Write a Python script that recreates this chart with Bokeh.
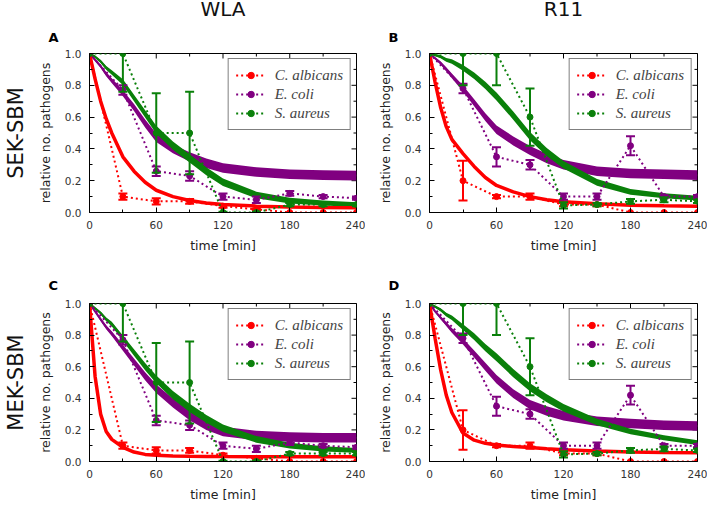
import math
from bokeh.plotting import figure
from bokeh.models import (Range1d, Legend, LegendItem, FixedTicker,
                          PrintfTickFormatter, Title)
from bokeh.layouts import column, row
from bokeh.embed import file_html
from bokeh.resources import INLINE

# ---------------- data ----------------
t_obs = [0, 30, 60, 90, 120, 150, 180, 210, 240]

wla_calb      = [1.00, 0.10, 0.07, 0.07, 0.04, 0.02, 0.00, 0.00, 0.00]
wla_calb_err  = [0.00, 0.02, 0.02, 0.015, 0.01, 0.005, 0.00, 0.00, 0.00]
wla_ecoli     = [1.00, 0.77, 0.26, 0.23, 0.10, 0.08, 0.12, 0.10, 0.09]
wla_ecoli_err = [0.00, 0.03, 0.03, 0.03, 0.02, 0.02, 0.015, 0.01, 0.01]
wla_saur      = [1.00, 1.00, 0.50, 0.50, 0.00, 0.00, 0.05, 0.05, 0.05]
wla_saur_err  = [0.00, 0.24, 0.25, 0.26, 0.005, 0.005, 0.01, 0.01, 0.01]

r11_calb      = [1.00, 0.20, 0.10, 0.10, 0.05, 0.05, 0.00, 0.00, 0.00]
r11_calb_err  = [0.00, 0.125, 0.01, 0.02, 0.01, 0.01, 0.00, 0.00, 0.00]
r11_ecoli     = [1.00, 0.78, 0.35, 0.30, 0.10, 0.10, 0.42, 0.10, 0.10]
r11_ecoli_err = [0.00, 0.03, 0.06, 0.03, 0.02, 0.02, 0.06, 0.01, 0.01]
r11_saur      = [1.00, 1.00, 1.00, 0.60, 0.045, 0.05, 0.07, 0.08, 0.07]
r11_saur_err  = [0.00, 0.20, 0.20, 0.18, 0.02, 0.01, 0.015, 0.015, 0.01]

t_fit = [0, 5, 10, 15, 20, 30, 40, 50, 60, 75, 90, 105, 120, 150, 180, 210, 240]

sek_wla_calb_fit  = [1.00, 0.84, 0.70, 0.59, 0.50, 0.35, 0.26, 0.19, 0.14, 0.10, 0.075, 0.06, 0.05, 0.04, 0.035, 0.032, 0.03]
sek_wla_ecoli_fit = [1.00, 0.96, 0.92, 0.87, 0.83, 0.75, 0.66, 0.56, 0.47, 0.40, 0.35, 0.31, 0.28, 0.255, 0.24, 0.235, 0.232]
sek_wla_saur_fit  = [1.00, 0.98, 0.95, 0.91, 0.88, 0.82, 0.72, 0.62, 0.52, 0.42, 0.34, 0.26, 0.19, 0.11, 0.075, 0.06, 0.05]

sek_r11_calb_fit  = [1.00, 0.82, 0.66, 0.54, 0.46, 0.37, 0.29, 0.22, 0.17, 0.13, 0.10, 0.08, 0.067, 0.055, 0.046, 0.042, 0.04]
sek_r11_ecoli_fit = [1.00, 0.97, 0.94, 0.90, 0.86, 0.78, 0.69, 0.60, 0.52, 0.45, 0.39, 0.34, 0.30, 0.26, 0.245, 0.24, 0.235]
sek_r11_saur_fit  = [1.00, 0.99, 0.98, 0.96, 0.95, 0.91, 0.86, 0.80, 0.73, 0.61, 0.48, 0.38, 0.30, 0.19, 0.13, 0.105, 0.09]

mek_wla_calb_fit  = [1.00, 0.54, 0.30, 0.19, 0.14, 0.09, 0.06, 0.045, 0.04, 0.035, 0.033, 0.032, 0.031, 0.03, 0.03, 0.03, 0.03]
mek_wla_ecoli_fit = [1.00, 0.95, 0.90, 0.85, 0.81, 0.72, 0.63, 0.54, 0.46, 0.37, 0.29, 0.23, 0.19, 0.165, 0.155, 0.15, 0.15]
mek_wla_saur_fit  = [1.00, 0.97, 0.94, 0.90, 0.87, 0.78, 0.69, 0.60, 0.52, 0.42, 0.34, 0.27, 0.21, 0.14, 0.10, 0.08, 0.07]

mek_r11_calb_fit  = [1.00, 0.78, 0.58, 0.42, 0.31, 0.18, 0.135, 0.115, 0.105, 0.095, 0.088, 0.08, 0.075, 0.067, 0.06, 0.057, 0.055]
mek_r11_ecoli_fit = [1.00, 0.95, 0.91, 0.87, 0.83, 0.76, 0.68, 0.60, 0.52, 0.43, 0.36, 0.32, 0.29, 0.255, 0.24, 0.23, 0.225]
mek_r11_saur_fit  = [1.00, 0.98, 0.96, 0.93, 0.91, 0.85, 0.79, 0.72, 0.66, 0.56, 0.47, 0.40, 0.34, 0.25, 0.19, 0.15, 0.12]

ecoli_band_hw = [0.004, 0.007, 0.01, 0.013, 0.015, 0.019, 0.022, 0.025, 0.027, 0.028, 0.029, 0.03, 0.03, 0.03, 0.03, 0.03, 0.03]
saur_band_hw  = [0.004, 0.007, 0.01, 0.012, 0.014, 0.018, 0.021, 0.023, 0.025, 0.026, 0.026, 0.025, 0.024, 0.021, 0.018, 0.016, 0.015]

species = ["C. albicans", "E. coli", "S. aureus"]
x_ticks = [0, 60, 120, 180, 240]
x_minor = [30, 90, 150, 210]
y_ticks = [0.0, 0.2, 0.4, 0.6, 0.8, 1.0]
y_minor = [0.1, 0.3, 0.5, 0.7, 0.9]

RED, PURPLE, GREEN = "#ff0000", "#800080", "#0a800a"
FONT = "DejaVu Sans"


def style_axis(ax, standoff, label_standoff):
    ax.major_tick_in = 5
    ax.major_tick_out = 0
    ax.minor_tick_in = 3
    ax.minor_tick_out = 0
    ax.axis_line_color = "black"
    ax.major_tick_line_color = "black"
    ax.minor_tick_line_color = "black"
    ax.major_label_text_font = FONT
    ax.major_label_text_font_size = "10.5px"
    ax.major_label_text_color = "#333333"
    ax.major_label_standoff = standoff
    ax.axis_label_text_font = FONT
    ax.axis_label_text_font_size = "12.5px"
    ax.axis_label_text_font_style = "normal"
    ax.axis_label_text_color = "#222222"
    ax.axis_label_standoff = label_standoff


def col_title_obj(text):
    kw = dict(text=text, align="center", offset=2, text_font=FONT, text_font_style="normal",
              text_font_size="20px", text_line_height=1.0, text_color="#111111")
    try:
        return Title(standoff=-4, **kw)
    except Exception:
        return Title(standoff=0, **kw)


def panel(letter, obs, errs, fits, width, height, bl, br, bt, bb, margin,
          col_title=None, row_title=None, letter_standoff=12):
    xr, yr = Range1d(0, 240), Range1d(0, 1)
    p = figure(width=width, height=height, x_range=xr, y_range=yr,
               output_backend="svg", toolbar_location=None, margin=margin,
               min_border_left=bl, min_border_right=br, min_border_top=bt, min_border_bottom=bb,
               x_axis_label="time [min]", y_axis_label="relative no. pathogens")
    p.grid.visible = False
    p.outline_line_color = "black"
    p.outline_line_width = 1
    p.background_fill_color = "white"
    p.border_fill_color = "white"

    p.xaxis.ticker = FixedTicker(ticks=x_ticks, minor_ticks=x_minor)
    p.yaxis.ticker = FixedTicker(ticks=y_ticks, minor_ticks=y_minor)
    p.yaxis.formatter = PrintfTickFormatter(format="%.1f")
    style_axis(p.xaxis[0], 8, 6)
    style_axis(p.yaxis[0], 8, 9)

    # inward ticks on the top and right frame edges (half of each dash is clipped by the frame)
    p.scatter(x_ticks, [yr.end] * len(x_ticks), marker="dash", angle=math.pi / 2, size=10,
              line_color="black", line_width=1)
    p.scatter(x_minor, [yr.end] * len(x_minor), marker="dash", angle=math.pi / 2, size=6,
              line_color="black", line_width=1)
    p.scatter([xr.end] * len(y_ticks), y_ticks, marker="dash", size=10,
              line_color="black", line_width=1)
    p.scatter([xr.end] * len(y_minor), y_minor, marker="dash", size=6,
              line_color="black", line_width=1)

    calb_fit, ecoli_fit, saur_fit = fits
    for fit, hw, col in ((ecoli_fit, ecoli_band_hw, PURPLE), (saur_fit, saur_band_hw, GREEN)):
        lo = [c - h for c, h in zip(fit, hw)]
        hi = [c + h for c, h in zip(fit, hw)]
        p.varea(x=t_fit, y1=lo, y2=hi, fill_color=col, fill_alpha=1.0)
        p.line(t_fit, fit, line_color=col, line_width=2)
    p.line(t_fit, calb_fit, line_color=RED, line_width=3.5)

    items = []
    for name, vals, err, col in zip(species, obs, errs, (RED, PURPLE, GREEN)):
        ln = p.line(t_obs, vals, line_color=col, line_width=2, line_dash="2 3")
        xs = [t for t, e in zip(t_obs, err) if e > 0]
        lo = [v - e for v, e in zip(vals, err) if e > 0]
        hi = [v + e for v, e in zip(vals, err) if e > 0]
        p.segment(x0=xs, y0=lo, x1=xs, y1=hi, line_color=col, line_width=2)
        p.scatter(xs, lo, marker="dash", size=9, line_color=col, line_width=2)
        p.scatter(xs, hi, marker="dash", size=9, line_color=col, line_width=2)
        sc = p.scatter(t_obs, vals, marker="circle", size=6, fill_color=col, line_color=col)
        items.append(LegendItem(label=name, renderers=[ln, sc]))

    leg = Legend(items=items, location="top_right", border_line_color="black",
                 border_line_width=1, background_fill_color="white", background_fill_alpha=1,
                 label_text_font="Liberation Serif", label_text_font_style="italic",
                 label_text_font_size="15px", glyph_width=30, glyph_height=16,
                 label_standoff=9, spacing=1, padding=7, margin=5, label_height=18)
    p.add_layout(leg)

    p.add_layout(Title(text=letter, align="left", offset=-41, standoff=letter_standoff,
                       text_font=FONT, text_font_style="bold", text_font_size="13px",
                       text_line_height=1.0, text_color="black"), "above")
    if col_title:
        p.add_layout(col_title_obj(col_title), "above")
    if row_title:
        p.add_layout(Title(text=row_title, align="center", standoff=14,
                           text_font=FONT, text_font_style="normal", text_font_size="21px",
                           text_line_height=1.0, text_color="#111111"), "left")
    return p


# top row: canvas starts above the page (negative top margin) so the titles fit above the frame
pA = panel("A", (wla_calb, wla_ecoli, wla_saur), (wla_calb_err, wla_ecoli_err, wla_saur_err),
           (sek_wla_calb_fit, sek_wla_ecoli_fit, sek_wla_saur_fit),
           371, 267, 95, 9, 65, 43, (-12, 0, 0, -6),
           col_title="WLA", row_title="SEK-SBM", letter_standoff=18)
pB = panel("B", (r11_calb, r11_ecoli, r11_saur), (r11_calb_err, r11_ecoli_err, r11_saur_err),
           (sek_r11_calb_fit, sek_r11_ecoli_fit, sek_r11_saur_fit),
           342, 267, 64, 10, 65, 43, (-12, 0, 0, 0),
           col_title="R11", letter_standoff=18)
pC = panel("C", (wla_calb, wla_ecoli, wla_saur), (wla_calb_err, wla_ecoli_err, wla_saur_err),
           (mek_wla_calb_fit, mek_wla_ecoli_fit, mek_wla_saur_fit),
           371, 249, 95, 9, 48, 42, (0, 0, 0, -6),
           row_title="MEK-SBM", letter_standoff=21)
pD = panel("D", (r11_calb, r11_ecoli, r11_saur), (r11_calb_err, r11_ecoli_err, r11_saur_err),
           (mek_r11_calb_fit, mek_r11_ecoli_fit, mek_r11_saur_fit),
           342, 249, 64, 10, 48, 42, (0, 0, 0, 0), letter_standoff=21)

layout = column(row(pA, pB), row(pC, pD))
open("out.html", "w").write(file_html(layout, INLINE))
